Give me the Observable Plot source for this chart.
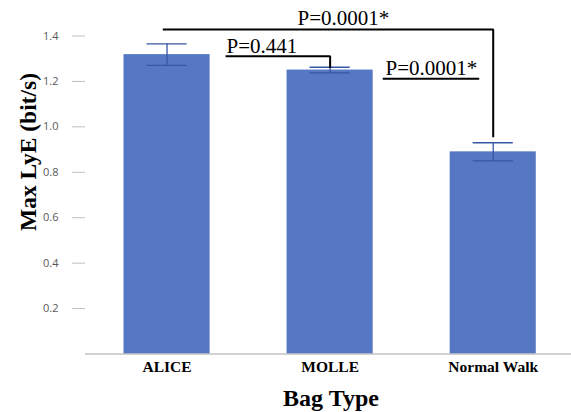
<!DOCTYPE html>
<html><head><meta charset="utf-8">
<script src="https://cdn.jsdelivr.net/npm/d3@7"></script>
<script src="https://cdn.jsdelivr.net/npm/@observablehq/plot@0.6"></script>
<style>
body{margin:0;background:#fff}
#chart svg{display:block}
</style>
</head><body><div id="chart"></div>
<script>
const categories = ["ALICE", "MOLLE", "Normal Walk"];
const means = [1.318, 1.250, 0.890];
const errors = [0.047, 0.0125, 0.040];
const yTicks = [0.2, 0.4, 0.6, 0.8, 1.0, 1.2, 1.4];
// significance brackets: x in category-index units, y in data units
const bracketId = ["a", "a", "a", "b", "b", "b", "c", "c"];
const bracketX = [-0.02, 2, 2, 0.365, 1, 1, 1.329, 1.908];
const bracketY = [1.429, 1.429, 0.959, 1.311, 1.311, 1.263, 1.212, 1.212];
const pLabels = ["P=0.0001*", "P=0.441", "P=0.0001*"];
const pLabelX = [0.80, 0.365, 1.34];
const pLabelY = [1.480, 1.357, 1.260];

const barHalf = 0.264, capHalf = 0.123;
const data = categories.map((c, i) => ({i, c, mean: means[i], lo: means[i] - errors[i], hi: means[i] + errors[i]}));
const brackets = bracketId.map((z, k) => ({z, x: bracketX[k], y: bracketY[k]}));
const labels = pLabels.map((t, k) => ({t, x: pLabelX[k], y: pLabelY[k]}));
const serif = "'Liberation Serif','Times New Roman',serif";

const chart = Plot.plot({
  width: 571, height: 412,
  marginLeft: 85, marginRight: 0, marginTop: 35.5, marginBottom: 58.5,
  x: {type: "linear", domain: [-0.5, 2.48], axis: null},
  y: {domain: [0, 1.4], axis: null},
  marks: [
    Plot.rectY(data, {x1: d => d.i - barHalf, x2: d => d.i + barHalf, y: "mean", fill: "#5677c4"}),
    Plot.ruleY([0], {stroke: "#a6a6a6", strokeWidth: 1.2}),
    Plot.ruleX(data, {x: "i", y1: "lo", y2: "hi", stroke: "#3556a3", strokeWidth: 1.3}),
    Plot.ruleY(data, {y: "hi", x1: d => d.i - capHalf, x2: d => d.i + capHalf, stroke: "#3556a3", strokeWidth: 1.3}),
    Plot.ruleY(data, {y: "lo", x1: d => d.i - capHalf, x2: d => d.i + capHalf, stroke: "#3556a3", strokeWidth: 1.3}),
    Plot.line(brackets, {x: "x", y: "y", z: "z", stroke: "#000", strokeWidth: 2, strokeLinejoin: "miter", strokeLinecap: "square"}),
    Plot.text(labels, {x: "x", y: "y", text: "t", textAnchor: "start", fontSize: 21, fontFamily: serif, fill: "#000"}),
    Plot.axisY({ticks: yTicks, tickSize: 13, tickPadding: 14, tickFormat: d3.format(".1f"), stroke: "#bfbfbf", fill: "#595959", fontSize: 11, fontFamily: "'Open Sans','Noto Sans',sans-serif", label: null}),
    Plot.axisX({ticks: [0, 1, 2], tickSize: 0, tickPadding: 6.5, tickFormat: i => categories[i], fontSize: 15.5, fontWeight: "bold", fontFamily: serif, fill: "#000", label: null}),
    Plot.text(["Bag Type"], {frameAnchor: "bottom", textAnchor: "middle", lineAnchor: "middle", dx: 2.5, dy: 44.8, fontSize: 24, fontWeight: "bold", fontFamily: serif, fill: "#000"}),
    Plot.text(["Max LyE (bit/s)"], {frameAnchor: "left", textAnchor: "middle", lineAnchor: "middle", rotate: -90, dx: -57.5, dy: -43, fontSize: 23.5, fontWeight: "bold", fontFamily: serif, fill: "#000"})
  ]
});
document.getElementById("chart").appendChild(chart);
</script>
</body></html>
